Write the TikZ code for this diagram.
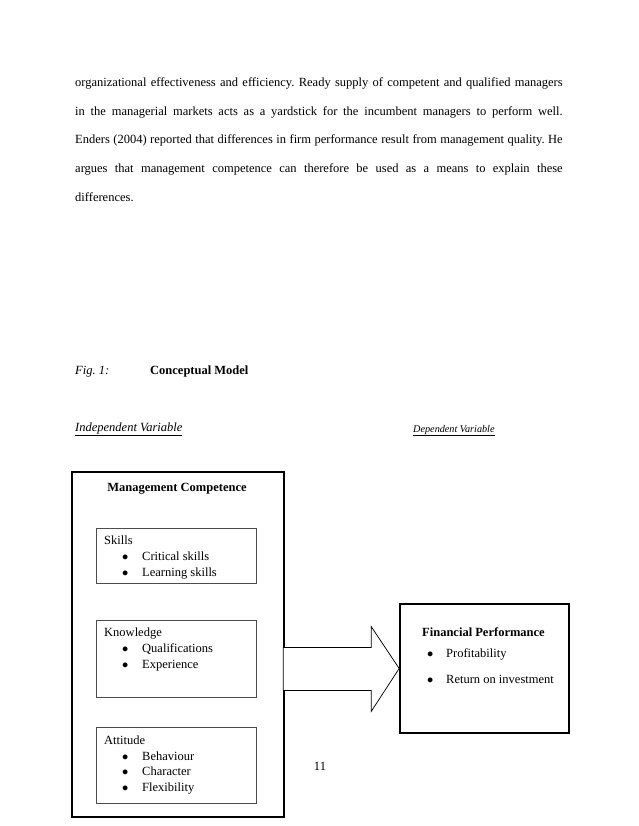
\documentclass[tikz,border=0pt]{standalone}
\usepackage{fontspec}
\setmainfont{Liberation Serif}
\usetikzlibrary{positioning,fit}
\frenchspacing

\tikzset{
  txt/.style={inner sep=0pt,anchor=base west,font=\fontsize{12pt}{14pt}\selectfont},
  smalltxt/.style={inner sep=0pt,anchor=base west,font=\fontsize{9.8pt}{11pt}\selectfont},
  outerbox/.style={draw,line width=1.6pt,inner sep=0pt},
  innerbox/.style={draw=black!70,line width=0.7pt,inner sep=0pt},
  bigarrow/.style={draw,line width=0.7pt,fill=white,line join=miter},
}
\newcommand{\blt}{$\bullet$}

\begin{document}
\begin{tikzpicture}[x=0.96pt,y=-0.96pt]
\useasboundingbox[fill=white] (0,0) rectangle (638,826);

% running text
\node[txt] (line1) at (75,87) {\makebox[468pt][s]{organizational effectiveness and efficiency. Ready supply of competent and qualified managers}};
\node[txt] (line2) at (75,116) {\makebox[468pt][s]{in the managerial markets acts as a yardstick for the incumbent managers to perform well.}};
\node[txt] (line3) at (75,144) {\makebox[468pt][s]{Enders (2004) reported that differences in firm performance result from management quality. He}};
\node[txt] (line4) at (75,173) {\makebox[468pt][s]{argues that management competence can therefore be used as a means to explain these}};
\node[txt] (line5) at (75,202) {differences.};

% caption and headings
\node[txt] (fignum) at (75,374) {\itshape Fig. 1:};
\node[txt] (figtitle) at (150,374) {\bfseries Conceptual Model};
\node[txt] (indep) at (75,431) {\itshape\underline{Independent Variable}};
\node[smalltxt] (dep) at (413,432) {\itshape\underline{Dependent Variable}};

% boxes
\node[outerbox,fit={(72,472) (284,817)}] (mc) {};
\node[innerbox,fit={(96,528) (256,583)}] (skills) {};
\node[innerbox,fit={(96,620) (256,697)}] (knowledge) {};
\node[innerbox,fit={(96,727) (256,803)}] (attitude) {};
\node[outerbox,fit={(400,604) (569,733)}] (fin) {};

% big arrow
\coordinate (tip) at (fin.west);
\draw[bigarrow] (tip) -- ++(-28,43) -- ++(0,-21) -- ++(-88,0) -- ++(0,-43)
  -- ++(88,0) -- ++(0,-21) -- cycle;

% texts in the boxes
\node[txt,anchor=base] (mctitle) at (177,491) {\bfseries Management Competence};

\node[txt] (sktitle) at (104,544) {Skills};
\node[txt] (skb1) at (122,560) {\blt};
\node[txt] (sk1) at (142,560) {Critical skills};
\node[txt] (skb2) at (122,576) {\blt};
\node[txt] (sk2) at (142,576) {Learning skills};

\node[txt] (kntitle) at (104,636) {Knowledge};
\node[txt] (knb1) at (122,652) {\blt};
\node[txt] (kn1) at (142,652) {Qualifications};
\node[txt] (knb2) at (122,668) {\blt};
\node[txt] (kn2) at (142,668) {Experience};

\node[txt] (attitle) at (104,744) {Attitude};
\node[txt] (atb1) at (122,760) {\blt};
\node[txt] (at1) at (142,760) {Behaviour};
\node[txt] (atb2) at (122,775) {\blt};
\node[txt] (at2) at (142,775) {Character};
\node[txt] (atb3) at (122,791) {\blt};
\node[txt] (at3) at (142,791) {Flexibility};

\node[txt] (fintitle) at (422,636) {\bfseries Financial Performance};
\node[txt] (finb1) at (427,657) {\blt};
\node[txt] (fin1) at (446,657) {Profitability};
\node[txt] (finb2) at (427,683) {\blt};
\node[txt] (fin2) at (446,683) {Return on investment};

% page number
\node[txt,anchor=base] (pagenum) at (320,770) {11};
\end{tikzpicture}
\end{document}
